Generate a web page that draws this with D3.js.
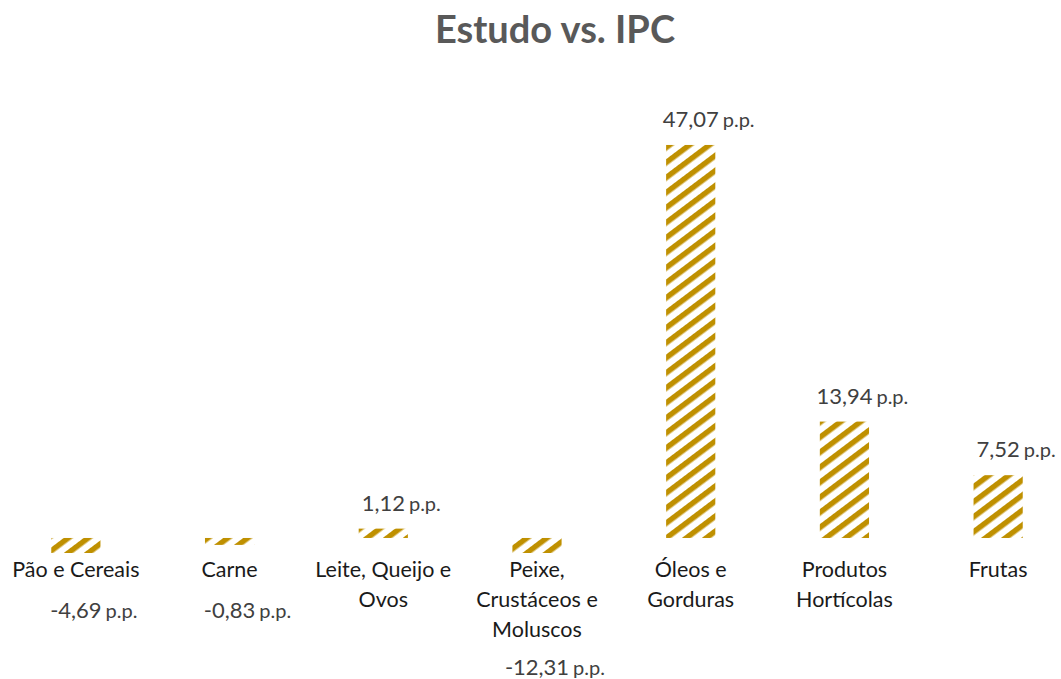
<!DOCTYPE html>
<html>
<head>
<meta charset="utf-8">
<script src="https://cdn.jsdelivr.net/npm/d3@7"></script>
<style>
  html, body { margin: 0; padding: 0; background: #fff; }
  svg { display: block; }
  text { font-family: Lato, "Noto Sans", sans-serif; }
</style>
</head>
<body>
<svg id="chart" width="1061" height="679"></svg>
<script>
// ---- data ----
const categories = [
  "Pão e Cereais",
  "Carne",
  "Leite, Queijo e\nOvos",
  "Peixe,\nCrustáceos e\nMoluscos",
  "Óleos e\nGorduras",
  "Produtos\nHortícolas",
  "Frutas"
];
const values = [-4.69, -0.83, 1.12, -12.31, 47.07, 13.94, 7.52];
const labelSuffix = "p.p.";
const title = "Estudo vs. IPC";

// ---- layout ----
const W = 1061, H = 679;
const svg = d3.select("#chart");
const barColor = "#BF9000";

const defs = svg.append("defs");
const pat = defs.append("pattern")
  .attr("id", "stripes")
  .attr("patternUnits", "userSpaceOnUse")
  .attr("width", 12).attr("height", 12)
  .attr("patternTransform", "rotate(53)");
pat.append("rect").attr("x", 0).attr("y", 0).attr("width", 5.5).attr("height", 12).attr("fill", barColor);

const plotTop = 120.5, plotBottom = 553;
defs.append("clipPath").attr("id", "plotclip")
  .append("rect").attr("x", -10).attr("y", 0).attr("width", W + 20).attr("height", plotBottom);

const x = d3.scaleBand()
  .domain(categories)
  .range([-1, 1075])
  .paddingInner(0.68)
  .paddingOuter(0.34);

const y = d3.scaleLinear()
  .domain([-1.8, 50])
  .range([plotBottom, plotTop]);

// title
svg.append("text")
  .attr("x", 555).attr("y", 43)
  .attr("text-anchor", "middle")
  .attr("font-size", 38)
  .attr("font-weight", 700)
  .attr("fill", "#595959")
  .text(title);

// bars
svg.append("g").attr("clip-path", "url(#plotclip)")
  .selectAll("rect")
  .data(values)
  .join("rect")
  .attr("x", (d, i) => x(categories[i]))
  .attr("width", x.bandwidth())
  .attr("y", d => y(Math.max(0, d)))
  .attr("height", d => Math.abs(y(d) - y(0)))
  .attr("fill", "url(#stripes)");

// category labels
const catG = svg.append("g");
categories.forEach((c, i) => {
  const t = catG.append("text")
    .attr("x", x(c) + x.bandwidth() / 2)
    .attr("y", 577)
    .attr("text-anchor", "middle")
    .attr("font-size", 21.5)
    .attr("fill", "#1a1a1a");
  c.split("\n").forEach((line, j) => {
    t.append("tspan")
      .attr("x", x(c) + x.bandwidth() / 2)
      .attr("dy", j === 0 ? 0 : 30)
      .text(line);
  });
});

// data labels
const fmt = v => v.toFixed(2).replace(".", ",");
const lblG = svg.append("g");
values.forEach((v, i) => {
  const cx = x(categories[i]) + x.bandwidth() / 2;
  const by = v >= 0 ? y(v) - 18 : Math.max(y(v) + 34, 618);
  const num = lblG.append("text")
    .attr("x", cx).attr("y", by)
    .attr("text-anchor", "middle")
    .attr("font-size", 22)
    .attr("fill", "#404040")
    .text(fmt(v));
  const w = num.node().getComputedTextLength();
  lblG.append("text")
    .attr("x", cx + w / 2 + 4).attr("y", by)
    .attr("font-size", 20)
    .attr("fill", "#404040")
    .text(labelSuffix);
});
</script>
</body>
</html>
